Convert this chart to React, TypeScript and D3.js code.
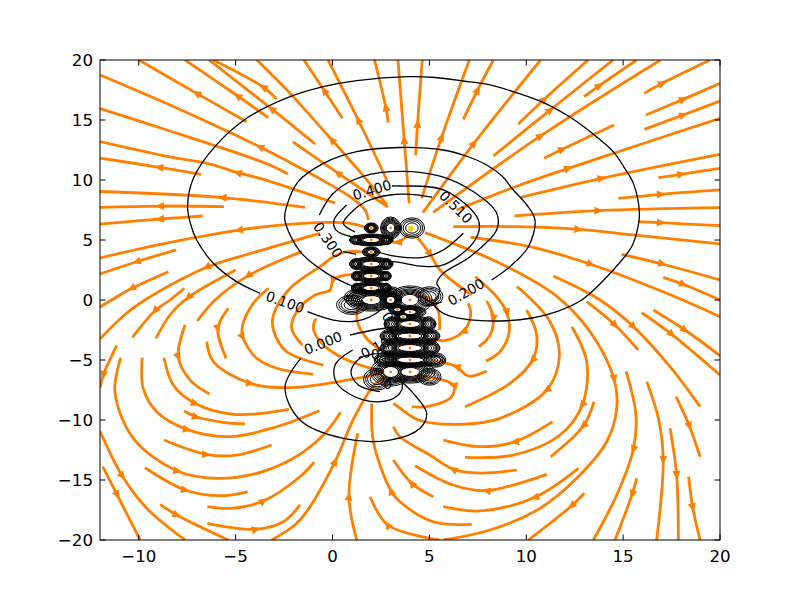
import * as d3 from "d3";

type Pt = [number, number];
// [index of the vertex carrying the arrow (-1 = none visible), points in flow direction]
type Stream = [number, Pt[]];

const xTicks = [-10, -5, 0, 5, 10, 15, 20];
const yTicks = [-20, -15, -10, -5, 0, 5, 10, 15, 20];

const upperLeftStreams: Stream[] = [
  [1, [[-4.43, 14.86], [-7.01, 17.22], [-9.99, 20]]],
  [1, [[-3.31, 15.19], [-4.89, 17], [-7.61, 20]]],
  [1, [[-2.88, 16.75], [-3.57, 17.73], [-6.15, 20]]],
  [1, [[-0.9, 13], [-3.14, 15.92], [-6.37, 20]]],
  [2, [[2.81, 7.92], [1.42, 10.67], [-0.03, 13.33], [-2.19, 17.22], [-3.9, 20]]],
  [1, [[0.51, 15.14], [-0.42, 17.44], [-1.47, 20]]],
  [1, [[2.8, 10], [1.33, 15], [-0.23, 20]]],
  [1, [[2.88, 14.78], [2.75, 16.06], [2.17, 20]]],
  [1, [[3.96, 8.06], [3.7, 13.33], [3.38, 20]]],
  [1, [[2.86, 7.75], [0.28, 10.58], [-2.04, 13.17]]],
  [4, [[1.85, 6.67], [1.68, 7.5], [0.9, 8.61], [-1.16, 10.56], [-3.74, 12.75], [-8.39, 16.25], [-12, 18.75]]],
  [-1, [[-2.3, 10.5], [-3.23, 11.25], [-6.17, 12.92], [-8.39, 14.08], [-12, 15.96]]],
  [2, [[0.13, 8.08], [-3.74, 10.14], [-4.89, 10.61], [-6.32, 11.33], [-8.39, 11.92], [-12, 13.2]]],
  [1, [[-6.79, 10.47], [-8.94, 11.06], [-12, 11.83]]],
  [1, [[-1.42, 7.72], [-5.67, 8.53], [-12, 9.04]]],
  [1, [[-5.6, 7.78], [-8.9, 7.83], [-12, 7.72]]],
  [1, [[-6.7, 7], [-8.9, 6.75], [-12, 6.33]]],
  [3, [[1.85, 5.97], [0.9, 6.39], [-1.51, 6.39], [-4.83, 5.83], [-9.07, 4.58], [-12, 3.5]]],
  [1, [[-8.07, 4.17], [-10.1, 3.19], [-12, 2.17]]],
  [1, [[-8.47, 2.36], [-10.36, 0.97], [-11.23, 0.17], [-12, -0.58]]],
  [2, [[-0.65, 5.56], [-3.91, 4.03], [-6.49, 2.73], [-9.26, 0.42], [-10.62, -1.08], [-12, -3.25]]],
];

const lowerLeftStreams: Stream[] = [
  [2, [[-7.65, 0.98], [-8.39, 0], [-9.16, -0.89], [-10.33, -3.11]]],
  [1, [[-4.99, 2.5], [-7.44, 0.22], [-8.39, -1.25], [-9.11, -3.19]]],
  [1, [[-1.59, 4.03], [-4.35, 2.03], [-6.06, 0], [-6.98, -1.75]]],
  [1, [[-5.38, -0.69], [-5.92, -2.36], [-5.49, -4.86]]],
  [1, [[-7.61, -2.08], [-7.96, -4.72], [-7.35, -6.67], [-6.35, -7.83]]],
  [3, [[-3.31, 0.98], [-4.09, -0.28], [-4.64, -2.08], [-4.64, -3.06], [-3.91, -4.86], [-2.88, -5.69], [-0.99, -6.19]]],
  [-1, [[1.68, 4], [0.65, 4], [0.03, 3.58], [-0.64, 2.78], [-2.19, 0.98], [-3.05, -1.25], [-3.05, -2.5], [-2.36, -4.31], [-0.47, -5.42]]],
  [2, [[1.42, 2.08], [0.65, 2.08], [0.03, 1.67], [-0.13, 0.83], [-0.9, 0.42], [-1.85, -0.97], [-2.11, -2.36], [-1.56, -3.75]]],
  [-1, [[-0.85, -1.53], [-0.99, -2.36], [-0.47, -3.75], [0.56, -4.86], [1.42, -5.42], [2.71, -6]]],
  [-1, [[2.45, 0.67], [1.42, -0.42], [1.27, -1.67], [1.83, -3.33], [2.97, -4.58]]],
  [2, [[-6.49, -3.47], [-6.15, -5.14], [-4.26, -6.94], [-2.19, -7.31], [1.25, -6.53], [2.71, -6]]],
  [1, [[-7.66, -9.25], [-7.05, -9.73], [-5.64, -10.19], [-4.52, -10.33]]],
  [1, [[-11.14, -3.81], [-11.83, -6.25], [-12, -7.33]]],
  [3, [[-10.93, -4.81], [-11.23, -7.64], [-10.28, -11.53], [-8.01, -14.25], [-5.98, -14.86], [-3.91, -14.44], [-2.02, -13.19], [-0.47, -11.25], [0.42, -9.36]]],
  [3, [[-9.82, -4.81], [-9.77, -7.36], [-9.07, -9.31], [-7.52, -10.78], [-5.29, -11.39], [-2.88, -10.56], [-0.68, -9.23]]],
  [2, [[-8.7, -4.81], [-8.22, -7.08], [-7.1, -8.61], [-5.12, -9.53], [-2.24, -9.11]]],
  [1, [[-8.7, -11.67], [-6.53, -12.86], [-4.94, -12.92], [-3.14, -12.08]]],
  [1, [[-9.68, -13.98], [-7.61, -15.83], [-5.81, -16.31], [-4.38, -15.98]]],
  [1, [[-12, -10.92], [-10.85, -14.67], [-9.59, -17.36], [-7.61, -20]]],
  [1, [[-11.86, -13.89], [-11.11, -16.25], [-9.93, -20]]],
  [1, [[-8.9, -17.03], [-8.04, -17.92], [-5.38, -20]]],
  [2, [[-6.46, -17.22], [-5.29, -17.36], [-3.57, -16.75], [-1.68, -14.73], [-0.95, -13.52]]],
  [1, [[-6.46, -18.61], [-3.96, -19.11], [-2.54, -18.48], [-1.68, -17.08]]],
  [1, [[1.25, -20], [0.85, -16.39], [1.3, -11.11]]],
  [3, [[-3.14, -20], [-1.94, -18.75], [-1.33, -17.64], [0.13, -13.47], [1.06, -10], [2.04, -7.33], [3.07, -5.83]]],
];

const lowerRightStreams: Stream[] = [
  [3, [[7.19, -18.69], [5.2, -18.48], [3.48, -16.81], [3.02, -15.92], [2.11, -11.81], [2.03, -8.61]]],
  [1, [[5.52, -20], [2.85, -18.75], [1.94, -16.39]]],
  [1, [[5.2, -16.39], [4.09, -15.28], [3.14, -13.33]]],
  [2, [[9.51, -14.17], [7.61, -14.42], [6.24, -14.11], [5.03, -12.92], [3.48, -11.39], [3.14, -10.56]]],
  [1, [[11.06, -14.53], [7.96, -15.89], [6.22, -15.42], [4.26, -13.81]]],
  [4, [[9.51, 1.11], [10.02, 0.42], [11.23, -1.81], [11.71, -4.58], [11.06, -7.5], [8.64, -9.86], [6.59, -10.36], [4.43, -10], [3.48, -9], [3.14, -8.61]]],
  [1, [[7.96, -0.08], [8.3, -1.53], [8.13, -2.92], [7.56, -3.89]]],
  [2, [[7.36, 1.94], [8.39, 0.42], [8.99, -1.03], [9.12, -2.64], [8.64, -4.31], [7.92, -5.08]]],
  [2, [[10.02, -0.83], [10.54, -2.92], [10.33, -5], [9.16, -6.94], [6.84, -8.89]]],
  [2, [[12.35, -2.22], [13.12, -5.14], [12.89, -8.75], [11.74, -11.25], [9.33, -12.92], [6.84, -13.11]]],
  [1, [[13.5, -8.48], [12.95, -10.48], [11.26, -13.06]]],
  [1, [[11.36, -10.14], [9.42, -11.81], [7.61, -12.22], [5.72, -11.67]]],
  [4, [[4.77, 5.61], [8.64, 3.06], [11.48, 0.42], [13.29, -2.64], [14.53, -6.58], [14.67, -9.03], [14.15, -11.81], [12.6, -14.86], [10.71, -17.36], [8.13, -19.17], [5.72, -20]]],
  [1, [[12.69, -14.03], [10.45, -16.44], [7.61, -17.58], [5.72, -17.22]]],
  [2, [[15.15, -5.92], [15.66, -9.58], [15.53, -12.44], [14.67, -16.25], [13.46, -20]]],
  [1, [[15.7, -14.86], [15.47, -16.17], [14.58, -20]]],
  [1, [[13, -16.11], [12.35, -17.14], [10.11, -20]]],
  [1, [[13.12, -0.14], [14.58, -2.08], [15.78, -4.17]]],
  [2, [[11.4, 2], [13.81, 0], [15.53, -2.22], [17.42, -5.56], [18.97, -8.89]]],
  [2, [[16.22, -6.81], [16.82, -9.86], [17.07, -13.33], [16.73, -20]]],
  [1, [[17.42, -10.69], [17.76, -14.58], [17.85, -20]]],
  [1, [[18.38, -14.72], [18.59, -17.28], [18.97, -20]]],
  [1, [[17.73, -8.06], [18.42, -10.5], [18.97, -13.06]]],
  [1, [[15.96, -1.06], [17.51, -2.86], [20, -6.25]]],
  [1, [[16.56, -0.83], [18.19, -2.5], [20, -4.64]]],
  [2, [[7.96, -5.92], [7.01, -6.33], [6.41, -5.56], [5.72, -5.22], [5.09, -5]]],
  [3, [[4.09, -8.89], [4.86, -8.89], [6.15, -8.06], [6.24, -7.08], [4.35, -6.25]]],
  [2, [[7.01, -0.28], [7.13, -1.25], [6.75, -2.64], [5.72, -3.39], [5.14, -3.17]]],
  [-1, [[3.84, 0.17], [4.97, 0.17], [5.44, -0.83], [5.53, -2.5]]],
];

const upperRightStreams: Stream[] = [
  [2, [[7.13, 5.23], [10.19, 4.44], [13.32, 2.98], [17.25, 0.56], [20, -1.39]]],
  [1, [[14.92, 3.81], [17.02, 3], [20, 1.67]]],
  [1, [[17.07, 1.89], [18.1, 1.31], [20, 0]]],
  [1, [[15.78, 6.53], [16.95, 6.44], [20, 6.19]]],
  [2, [[6.24, 6.11], [9.51, 6.11], [12.69, 5.89], [15.53, 5.42], [20, 4.67]]],
  [1, [[9.39, 7], [13.72, 7.44], [20, 7.69]]],
  [1, [[14.75, 8.47], [16.95, 8.81], [20, 9.17]]],
  [1, [[16.82, 10.19], [17.99, 10.47], [20, 10.97]]],
  [1, [[9.73, 8.56], [13.89, 10.14], [20, 12.14]]],
  [2, [[6.41, 7.5], [9.68, 9.58], [12.17, 10.97], [20, 15.14]]],
  [1, [[4.29, 12.08], [4.39, 14.67], [4.63, 20]]],
  [1, [[4.6, 8.47], [5.63, 13.56], [7.06, 20]]],
  [1, [[6.75, 15.06], [7.49, 17.5], [8.3, 20]]],
  [1, [[4.66, 7.28], [7.3, 13.06], [10.74, 20]]],
  [1, [[9.59, 14.67], [10.93, 16.73], [13.19, 20]]],
  [1, [[8.3, 12], [11.23, 15.83], [14.48, 20]]],
  [1, [[5.2, 7.31], [10.74, 13.67], [16.93, 20]]],
  [1, [[12.98, 16.94], [13.77, 17.86], [15.69, 20]]],
  [1, [[10.92, 11.81], [11.86, 12.56], [14.53, 14.58]]],
  [1, [[16.09, 17.22], [17.02, 18.06], [19.48, 20]]],
  [1, [[16.18, 15.42], [18.1, 16.72], [20, 18.06]]],
  [1, [[16.09, 14.22], [18.1, 15.42], [20, 16.58]]],
  [1, [[4.35, 5.28], [5.03, 3.83], [5.55, 2.5], [7.19, 0.42]]],
  [1, [[3.9, 5.42], [3.38, 4.83], [2.71, 4.92], [2.19, 5]]],
];

const contourLines: Pt[][] = [
  [[-3.74, 0.56], [-4.95, 1.53], [-6.15, 3.06], [-7.01, 5], [-7.35, 6.5], [-7.48, 7.78], [-7.18, 10.14], [-6.07, 12.78], [-4.43, 15.14], [-2.19, 16.94], [-0.47, 17.78], [1.25, 18.28], [3.9, 18.61], [5.3, 18.54], [6.75, 18.25], [8.13, 17.92], [9.42, 17.31], [10.92, 16.42], [12.35, 15.14], [13.45, 13.83], [14.49, 12.36], [15.04, 11.08], [15.53, 9.72], [15.84, 7.22], [15.71, 5.67], [15.44, 4.44], [14.49, 2.5], [12.86, 0], [11.57, -0.97], [10.3, -1.5], [8.99, -1.73], [6.75, -1.58], [5.72, -1.11], [5.38, -0.69], [5.12, -0.25], [4.52, 0.33]],
  [[-1.29, -0.97], [0.05, -1.67], [1.25, -1.75], [2.11, -1.25], [2.71, -0.5]],
  [[8.21, 1.67], [9.16, 2.78], [10.11, 4.44], [10.45, 6.67], [9.99, 8], [9.33, 9.17], [8.75, 10.33], [7.96, 11.25], [6.89, 12], [5.72, 12.5], [3.48, 12.71], [1.25, 12.36], [-0.47, 11.39], [-1.77, 9.86], [-2.37, 7.78], [-2.46, 6.67], [-1.67, 4.03], [-0.29, 2.22], [0.9, 1.25], [1.52, 0.83]],
  [[5.63, -0.17], [4.77, -0.5]],
  [[-0.68, 7.08], [-0.04, 8.75], [1.07, 10], [2.97, 10.69], [5.55, 10.33], [7.3, 9], [8.47, 7.25], [8.47, 5.83], [7.1, 3.61], [5.72, 2.22], [5.38, 1.42], [5.55, 0.83], [5.19, -0.25], [4.88, -0.5]],
  [[0.54, 4.03], [1.21, 3.83]],
  [[0.73, 7.92], [0.08, 6.67], [0.18, 5.83], [1.06, 5.25]],
  [[3.07, 9.5], [3.48, 9.5], [5.72, 9.17], [7.53, 6.67], [7.36, 5], [5.72, 2.92], [4.52, 2.83], [3.12, 3.19], [1.68, 3.08]],
  [[1.16, 5.67], [0.56, 6.39], [0.99, 7.33], [1.68, 8.17], [2.97, 8.75], [4, 8.81], [5.14, 8.58]],
  [[6.75, 5.56], [5.72, 4.17], [4.69, 3.56], [3.38, 3.61], [2.35, 4]],
  [[0.9, -2.92], [2.13, -2.5], [3.12, -2.25]],
  [[-1.64, -4.86], [-2.45, -7.22], [-1.68, -10], [0.56, -11.53], [2.97, -11.67], [4.52, -10.69], [4.86, -9.44], [4.17, -7.78], [3.65, -6.94]],
  [[1.04, -4.17], [0.13, -5.42], [0.22, -6.94], [1.59, -8.33], [2.97, -8.33], [3.57, -7.5], [3.57, -6.67]],
  [[2.45, -7.64], [1.33, -7.08], [0.95, -5.97], [1.42, -4.86], [2.45, -4.44], [3.12, -4.58]],
];

const labelTexts = ["0.400", "0.510", "0.300", "0.100", "0.200", "0.000", "-0.100", "0", "0", "0"];
const labelXs = [2.04, 6.37, -0.23, -2.45, 6.89, -0.49, 2.3, 2.2, 2.85, 2.85];
const labelYs = [9.17, 7.75, 5, -0.17, 0.67, -3.58, -3.9, -4.5, -1.4, -7];
const labelAngles = [-17, 45, 55, 20, -30, -22, -28, 0, 60, 0];

const chargeXs = [2, 2, 2, 2, 2, 2, 2, 3, 3, 3.35, 3.65, 4, 4, 4, 4, 4, 4, 4, 3];
const chargeYs = [6, 5, 4, 3, 2, 1, 0, 6, 0, -0.8, -1.4, 0, -1, -2, -3, -4, -5, -6, -6];
const chargeRx = [0.36, 1.13, 0.46, 1.13, 1.03, 1.03, 1.29, 0.52, 0.57, 0.46, 0.46, 1.14, 0.83, 1.34, 1.55, 1.55, 1.8, 1.29, 1.03];
const chargeRy = [0.42, 0.5, 0.42, 0.58, 0.5, 0.5, 0.92, 0.92, 0.75, 0.42, 0.42, 1.17, 0.5, 0.67, 0.58, 0.67, 0.58, 0.92, 1.17];
const ringFactors = [0.4, 0.48, 0.56, 0.64, 0.72, 0.8, 0.9, 1];

// wider open loops next to the charges, and the isolated one at (4, 6)
const lobeXs = [4.1, 1.2, 2.8, 1.2, 2.8, 1.25, 2.75, 1.25, 2.75, 3.05, 4.95, 2.9, 5.1, 2.9, 5.1, 2.7, 5.3, 5, 5, 3, 1, 1.3, 2.3];
const lobeYs = [6, 5, 5, 3, 3, 2, 2, 1, 1, -2, -2, -3, -3, -4, -4, -5, -5, -6.4, 0.3, 0.4, -0.4, 0.2, -6.6];
const lobeRx = [0.65, 0.3, 0.3, 0.3, 0.3, 0.28, 0.28, 0.28, 0.28, 0.38, 0.38, 0.42, 0.42, 0.42, 0.42, 0.55, 0.55, 0.6, 0.7, 0.6, 0.8, 0.7, 0.7];
const lobeRy = [0.85, 0.38, 0.38, 0.45, 0.45, 0.4, 0.4, 0.4, 0.4, 0.6, 0.6, 0.55, 0.55, 0.6, 0.6, 0.6, 0.6, 0.7, 0.8, 0.7, 0.8, 0.7, 0.9];
const lobeFactors = [0.5, 0.7, 0.85, 1];

const width = 800;
const height = 600;
const margin = { top: 60, right: 80, bottom: 60, left: 100 };
const orange = "#ff8000";

const x = d3.scaleLinear().domain([-12, 20]).range([margin.left, width - margin.right]);
const y = d3.scaleLinear().domain([-20, 20]).range([height - margin.bottom, margin.top]);

const line = d3
  .line<Pt>()
  .x((d) => x(d[0]))
  .y((d) => y(d[1]))
  .curve(d3.curveCatmullRom.alpha(0.5));

const arrowHead = (pts: Pt[], i: number) => {
  const a = pts[i];
  const b = pts[i + 1];
  const ax = x(a[0]);
  const ay = y(a[1]);
  const ang = Math.atan2(y(b[1]) - ay, x(b[0]) - ax);
  const c = Math.cos(ang);
  const s = Math.sin(ang);
  return [
    [ax + 5 * c, ay + 5 * s],
    [ax - 4 * c - 4 * s, ay - 4 * s + 4 * c],
    [ax - 4 * c + 4 * s, ay - 4 * s - 4 * c],
  ]
    .map((p) => p.join(","))
    .join(" ");
};

const fmt = (v: number) => (v < 0 ? `\u2212${Math.abs(v)}` : `${v}`);

const Rings = ({ xs, ys, rxs, rys, factors }: { xs: number[]; ys: number[]; rxs: number[]; rys: number[]; factors: number[] }) => (
  <>
    {xs.map((cx, i) =>
      factors.map((f) => (
        <ellipse
          key={`${i}-${f}`}
          cx={x(cx)}
          cy={y(ys[i])}
          rx={x(cx + rxs[i] * f) - x(cx)}
          ry={y(ys[i] - rys[i] * f) - y(ys[i])}
          fill="none"
          stroke="black"
          strokeWidth={1}
        />
      )),
    )}
  </>
);

export default function App() {
  const streams = [...upperLeftStreams, ...lowerLeftStreams, ...lowerRightStreams, ...upperRightStreams];

  return (
    <svg
      width={width}
      height={height}
      style={{ position: "absolute", left: 0, top: 0, background: "white" }}
      fontFamily="'DejaVu Sans'"
    >
      <defs>
        <clipPath id="plot">
          <rect x={x(-12)} y={y(20)} width={x(20) - x(-12)} height={y(-20) - y(20)} />
        </clipPath>
      </defs>

      <g clipPath="url(#plot)">
        {streams.map(([at, pts], i) => (
          <g key={i}>
            <path d={line(pts) ?? ""} fill="none" stroke={orange} strokeWidth={2.8} />
            {at >= 0 && <polygon points={arrowHead(pts, at)} fill={orange} />}
          </g>
        ))}

        <Rings xs={lobeXs} ys={lobeYs} rxs={lobeRx} rys={lobeRy} factors={lobeFactors} />

        {contourLines.map((pts, i) => (
          <path key={i} d={line(pts) ?? ""} fill="none" stroke="black" strokeWidth={1.3} />
        ))}

        <Rings xs={chargeXs} ys={chargeYs} rxs={chargeRx} rys={chargeRy} factors={ringFactors} />

        {/* white eye with the orange stream end in the middle of each charge */}
        {chargeXs.map((cx, i) => (
          <g key={i}>
            <ellipse
              cx={x(cx)}
              cy={y(chargeYs[i])}
              rx={x(cx + chargeRx[i] * 0.34) - x(cx)}
              ry={y(chargeYs[i] - chargeRy[i] * 0.34) - y(chargeYs[i])}
              fill="white"
            />
            <circle cx={x(cx)} cy={y(chargeYs[i])} r={1.4} fill={orange} />
          </g>
        ))}
        <circle cx={x(4.05)} cy={y(5.95)} r={2.8} fill="#ffcc00" />
      </g>

      {labelTexts.map((t, i) => (
        <text
          key={i}
          transform={`translate(${x(labelXs[i])},${y(labelYs[i])}) rotate(${labelAngles[i]})`}
          textAnchor="middle"
          dominantBaseline="central"
          fontSize={13.9}
          fill="black"
        >
          {t}
        </text>
      ))}

      <rect x={x(-12)} y={y(20)} width={x(20) - x(-12)} height={y(-20) - y(20)} fill="none" stroke="black" strokeWidth={1} />

      {xTicks.map((t) => (
        <g key={t}>
          <line x1={x(t)} x2={x(t)} y1={y(-20)} y2={y(-20) - 5.5} stroke="black" />
          <line x1={x(t)} x2={x(t)} y1={y(20)} y2={y(20) + 5.5} stroke="black" />
          <text x={x(t)} y={y(-20) + 21.5} textAnchor="middle" fontSize={16.67}>
            {fmt(t)}
          </text>
        </g>
      ))}

      {yTicks.map((t) => (
        <g key={t}>
          <line x1={x(-12)} x2={x(-12) + 5.5} y1={y(t)} y2={y(t)} stroke="black" />
          <line x1={x(20)} x2={x(20) - 5.5} y1={y(t)} y2={y(t)} stroke="black" />
          <text x={x(-12) - 7} y={y(t) + 5.5} textAnchor="end" fontSize={16.67}>
            {fmt(t)}
          </text>
        </g>
      ))}
    </svg>
  );
}
